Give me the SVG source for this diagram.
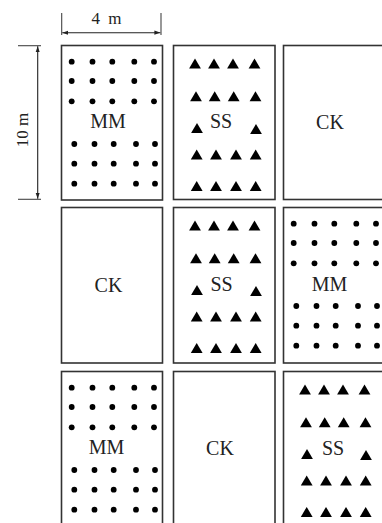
<svg xmlns="http://www.w3.org/2000/svg" xmlns:xlink="http://www.w3.org/1999/xlink" width="382" height="523" viewBox="0 0 382 523">
<style>
.box{fill:#fff;stroke:#333;stroke-width:1.6}
.lbl{font-size:20px;fill:#222;text-anchor:middle}
.dim{font-size:17px;fill:#222}
.dl{stroke:#222;stroke-width:1.1;fill:none}
.tk{stroke:#444;stroke-width:1.1;fill:none}
</style>
<defs>
<marker id="ah" viewBox="0 0 10 10" refX="10" refY="5" markerWidth="6" markerHeight="6" orient="auto-start-reverse" markerUnits="userSpaceOnUse">
<path d="M0,1.5 L10,5 L0,8.5 Z" fill="#222"/>
</marker>
<g id="dots" fill="#000">
<circle cx="10.7" cy="16.7" r="2.9"/><circle cx="31.5" cy="16.7" r="2.9"/><circle cx="51.3" cy="16.7" r="2.9"/><circle cx="73.3" cy="16.7" r="2.9"/><circle cx="93" cy="16.7" r="2.9"/>
<circle cx="10.7" cy="36" r="2.9"/><circle cx="31.5" cy="36" r="2.9"/><circle cx="51.3" cy="36" r="2.9"/><circle cx="73.3" cy="36" r="2.9"/><circle cx="93" cy="36" r="2.9"/>
<circle cx="10.7" cy="56.3" r="2.9"/><circle cx="31.5" cy="56.3" r="2.9"/><circle cx="51.3" cy="56.3" r="2.9"/><circle cx="73.3" cy="56.3" r="2.9"/><circle cx="93" cy="56.3" r="2.9"/>
<circle cx="13.3" cy="99" r="2.9"/><circle cx="33.5" cy="99" r="2.9"/><circle cx="52.7" cy="99" r="2.9"/><circle cx="75" cy="99" r="2.9"/><circle cx="94" cy="99" r="2.9"/>
<circle cx="13.3" cy="118.7" r="2.9"/><circle cx="33.5" cy="118.7" r="2.9"/><circle cx="52.7" cy="118.7" r="2.9"/><circle cx="75" cy="118.7" r="2.9"/><circle cx="94" cy="118.7" r="2.9"/>
<circle cx="13.3" cy="138.7" r="2.9"/><circle cx="33.5" cy="138.7" r="2.9"/><circle cx="52.7" cy="138.7" r="2.9"/><circle cx="75" cy="138.7" r="2.9"/><circle cx="94" cy="138.7" r="2.9"/>
</g>
<path id="tri" d="M-5.9,4.9 L0,-5.1 L5.9,4.9 Z" fill="#000"/>
<g id="tris">
<use xlink:href="#tri" x="22" y="18.7"/><use xlink:href="#tri" x="41" y="18.7"/><use xlink:href="#tri" x="60" y="18.7"/><use xlink:href="#tri" x="81.5" y="18.7"/>
<use xlink:href="#tri" x="23" y="51.3"/><use xlink:href="#tri" x="41.7" y="51.3"/><use xlink:href="#tri" x="60.7" y="51.3"/><use xlink:href="#tri" x="82.5" y="51.3"/>
<use xlink:href="#tri" x="24" y="83"/><use xlink:href="#tri" x="83" y="84"/>
<use xlink:href="#tri" x="23.7" y="109.5"/><use xlink:href="#tri" x="43" y="109.5"/><use xlink:href="#tri" x="63" y="109.5"/><use xlink:href="#tri" x="82.7" y="109.5"/>
<use xlink:href="#tri" x="23.7" y="141"/><use xlink:href="#tri" x="43" y="141"/><use xlink:href="#tri" x="63" y="141"/><use xlink:href="#tri" x="82.7" y="141"/>
</g>
</defs>
<rect width="382" height="523" fill="#fff"/>

<g font-family="'Liberation Serif', 'Times New Roman', 'DejaVu Serif', serif">
<g id="connectors">
<g id="dim-width">
<line class="tk" x1="61.7" y1="13" x2="61.7" y2="35"/>
<line class="tk" x1="161" y1="13" x2="161" y2="35"/>
<line class="dl" x1="62.3" y1="32.7" x2="160.4" y2="32.7" marker-start="url(#ah)" marker-end="url(#ah)"/>
<text class="dim" x="91.5" y="23.5" word-spacing="4">4 m</text>
</g>
<g id="dim-height">
<line class="tk" x1="18" y1="45.7" x2="41" y2="45.7"/>
<line class="tk" x1="18" y1="199.3" x2="41" y2="199.3"/>
<line class="dl" x1="37.7" y1="46.3" x2="37.7" y2="198.7" marker-start="url(#ah)" marker-end="url(#ah)"/>
<text class="dim" x="27.5" y="130" text-anchor="middle" font-size="18" transform="rotate(-90 27.5 130)">10 m</text>
</g>
</g>

<g id="plot-r1c1"><rect class="box" x="61.5" y="45.5" width="101" height="154.5"/><use xlink:href="#dots" x="61" y="45"/><text class="lbl" x="108" y="128">MM</text></g>
<g id="plot-r1c2"><rect class="box" x="173.5" y="45.5" width="101.5" height="154"/><use xlink:href="#tris" x="173" y="45"/><text class="lbl" x="221" y="127.5">SS</text></g>
<g id="plot-r1c3"><rect class="box" x="283.5" y="45.5" width="102" height="154"/><text class="lbl" x="330" y="128.5">CK</text></g>

<g id="plot-r2c1"><rect class="box" x="61.5" y="207.5" width="101" height="155.5"/><text class="lbl" x="108.5" y="291.5">CK</text></g>
<g id="plot-r2c2"><rect class="box" x="173.5" y="207.5" width="101.5" height="155.5"/><use xlink:href="#tris" x="173" y="207"/><text class="lbl" x="221.5" y="290.7">SS</text></g>
<g id="plot-r2c3"><rect class="box" x="283.5" y="207.5" width="102" height="155.5"/><use xlink:href="#dots" x="283" y="207"/><text class="lbl" x="329.5" y="290.7">MM</text></g>

<g id="plot-r3c1"><rect class="box" x="61.5" y="371.5" width="101" height="156"/><use xlink:href="#dots" x="61" y="371"/><text class="lbl" x="106.5" y="454">MM</text></g>
<g id="plot-r3c2"><rect class="box" x="173.5" y="371.5" width="101.5" height="156"/><text class="lbl" x="220" y="455">CK</text></g>
<g id="plot-r3c3"><rect class="box" x="283.5" y="371.5" width="102" height="156"/><use xlink:href="#tris" x="283" y="371"/><text class="lbl" x="333" y="455">SS</text></g>
</g>
</svg>
